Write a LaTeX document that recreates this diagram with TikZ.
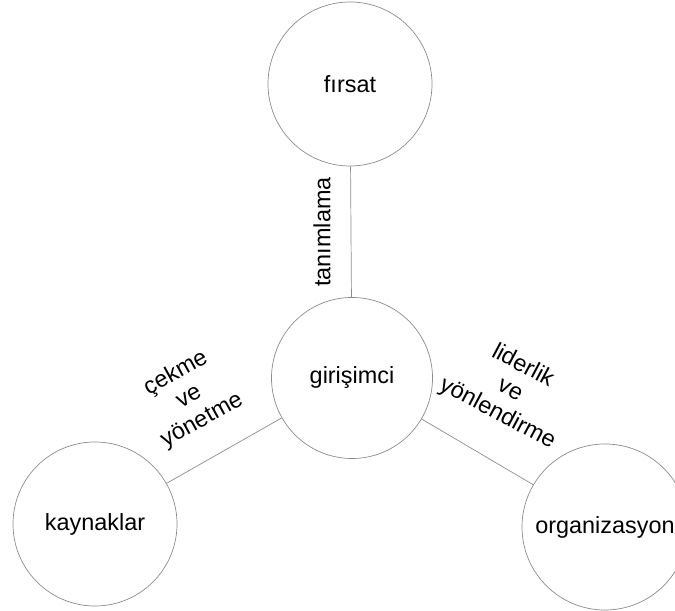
\documentclass[tikz,border=0pt]{standalone}
\usepackage{fontspec}
\setmainfont{Liberation Sans}
\begin{document}
\begin{tikzpicture}[x=1bp,y=1bp,
  txt/.style={font=\fontsize{23.5}{27}\selectfont, text=black},
  bubble/.style={circle, draw=black!45, line width=0.7bp, fill=white, inner sep=0pt, txt},
  link/.style={draw=black!45, line width=0.7bp},
  edgelabel/.style={txt, align=center, inner sep=0pt}]
  \useasboundingbox (0,0) rectangle (675,611);

  % the four circles
  \node[bubble, minimum size=164bp] (opp) at (350,527) {fırsat};
  \node[bubble, minimum size=161bp] (ent) at (352,233) {girişimci};
  \node[bubble, minimum size=164bp] (res) at (95,87) {kaynaklar};
  \node[bubble, minimum size=166bp] (org) at (605,84) {organizasyon};

  % connectors from the entrepreneur to the others
  \draw[link] (ent) -- (opp);
  \draw[link] (ent) -- (res);
  \draw[link] (ent) -- (org);

  % connector labels
  \node[edgelabel, rotate=90] (lopp) at (322,379) {tanımlama};
  \node[edgelabel, rotate=29] (lres) at (189,214) {çekme\\ve\\yönetme};
  \node[edgelabel, rotate=-28] (lorg) at (510,221) {liderlik\\ve\\yönlendirme};
\end{tikzpicture}
\end{document}
